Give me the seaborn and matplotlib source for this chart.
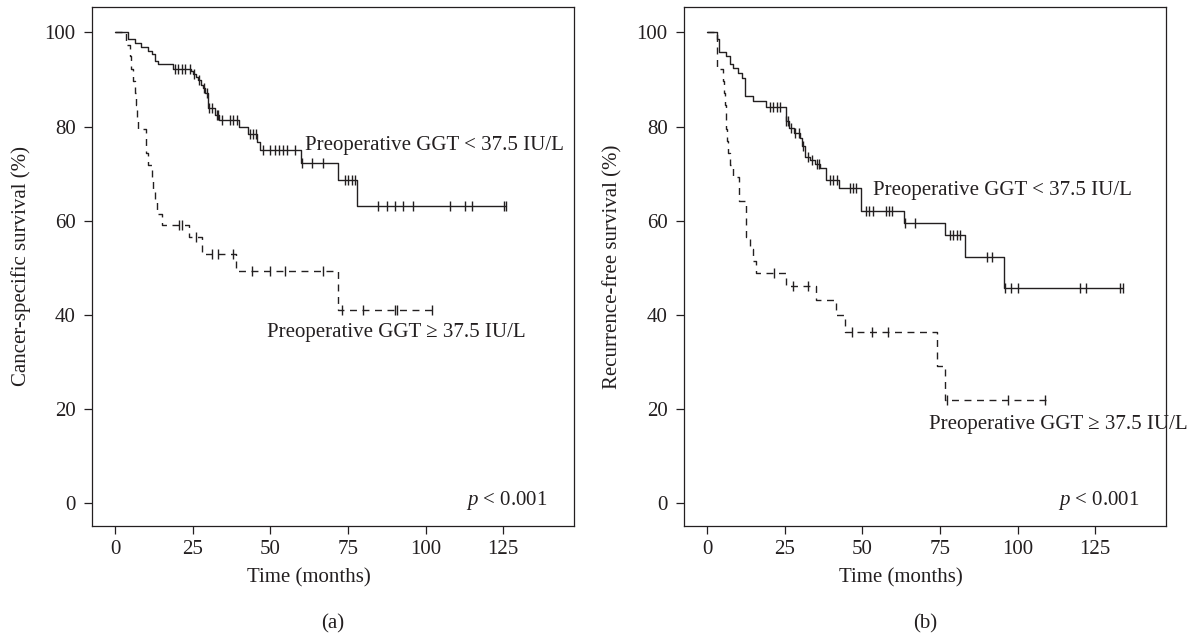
import numpy as np
import pandas as pd
import matplotlib
matplotlib.use("Agg")
import matplotlib.pyplot as plt
import seaborn as sns

# ---------------- data ----------------
# Panel (a): cancer-specific survival
cs_low_event_t = [4.1, 6.5, 8.5, 10.5, 12.0, 13.0, 14.0, 18.6, 24.4, 25.2, 26.1, 26.8,
                  27.6, 28.4, 29.0, 30.1, 32.2, 33.6, 40.0, 42.9, 45.8, 46.7, 60.0, 71.9, 77.8]
cs_low_event_s = [98.5, 97.8, 96.9, 96.1, 95.4, 94.0, 93.3, 92.3, 91.8, 91.2, 90.5, 89.8,
                  88.9, 88.2, 87.1, 83.9, 82.5, 81.4, 79.8, 78.4, 76.7, 75.1, 72.2, 68.7, 63.1]
cs_low_end = 126.0
cs_low_censor = [19.3, 20.4, 21.5, 22.6, 24.0, 25.5, 27.0, 28.6, 29.5, 30.4, 31.1, 32.7, 33.3,
                 34.4, 37.0, 38.1, 39.2, 43.5, 44.5, 45.4, 47.8, 49.9, 51.5, 52.9, 54.2, 55.3,
                 58.0, 60.1, 63.3, 67.1, 74.1, 75.1, 76.2, 77.3, 84.8, 87.5, 90.2, 92.9, 95.9,
                 107.9, 112.7, 114.9, 125.1, 125.9]

cs_high_event_t = [3.4, 4.8, 5.3, 5.9, 6.3, 6.7, 7.0, 7.5, 10.0, 10.7, 11.8, 12.3, 12.9,
                   13.4, 15.0, 23.9, 27.9, 39.0, 71.9]
cs_high_event_s = [97.4, 94.9, 92.3, 89.7, 87.2, 84.6, 82.1, 79.5, 74.4, 71.8, 69.2, 66.7,
                   64.1, 61.5, 59.0, 56.6, 53.0, 49.3, 40.9]
cs_high_end = 103.0
cs_high_censor = [20.5, 21.5, 26.1, 31.1, 33.3, 38.1, 44.0, 49.9, 54.8, 67.1, 73.0, 80.0,
                  90.2, 90.9, 102.0]

# Panel (b): recurrence-free survival
rfs_low_event_t = [3.1, 4.0, 6.1, 7.4, 8.5, 10.1, 11.2, 12.2, 14.7, 19.0, 25.4, 26.5, 28.0,
                   30.0, 30.5, 31.6, 33.2, 34.8, 36.4, 38.3, 42.6, 49.5, 63.5, 76.7, 83.1, 95.7]
rfs_low_event_s = [98.5, 95.9, 94.9, 93.3, 92.5, 91.4, 90.3, 86.4, 85.5, 84.1, 81.1, 79.7, 78.6,
                   77.5, 75.8, 73.6, 72.9, 72.0, 71.1, 68.7, 67.0, 62.1, 59.6, 56.9, 52.2, 45.7]
rfs_low_end = 134.0
rfs_low_censor = [20.3, 21.4, 22.4, 23.5, 25.6, 26.2, 27.2, 28.5, 29.5, 31.0, 32.5, 33.8, 35.5,
                  36.0, 39.6, 40.7, 41.8, 46.0, 47.1, 47.9, 51.2, 52.3, 53.4, 57.7, 58.7, 59.5,
                  63.8, 67.0, 78.3, 79.3, 80.4, 81.5, 90.1, 91.7, 95.9, 98.0, 100.3, 120.1,
                  122.0, 133.0, 133.9]

rfs_high_event_t = [3.1, 5.1, 5.4, 5.7, 6.0, 6.2, 6.4, 6.7, 7.4, 8.5, 10.4, 12.6, 13.8, 14.7,
                    15.7, 25.4, 35.1, 41.5, 44.4, 74.2, 76.7]
rfs_high_event_s = [92.3, 89.7, 87.2, 84.6, 82.1, 79.5, 76.9, 74.4, 71.8, 69.2, 64.1, 56.6,
                    54.0, 51.5, 48.9, 46.1, 43.1, 39.9, 36.3, 29.2, 21.9]
rfs_high_end = 109.4
rfs_high_censor = [21.5, 27.6, 32.6, 46.6, 53.0, 58.4, 77.2, 97.0, 108.8]

x_ticks = [0, 25, 50, 75, 100, 125]
y_ticks = [0, 20, 40, 60, 80, 100]
y_labels = ["Cancer-specific survival (%)", "Recurrence-free survival (%)"]
x_label = "Time (months)"
label_low = "Preoperative GGT < 37.5 IU/L"
label_high = "Preoperative GGT \u2265 37.5 IU/L"
panel_tags = ["(a)", "(b)"]
p_text = r"$p$ < 0.001"

# ---------------- style ----------------
sns.set_style("ticks")
INK = "#231f20"
plt.rcParams["font.family"] = ["Liberation Serif", "DejaVu Serif"]
plt.rcParams["mathtext.fontset"] = "custom"
plt.rcParams["mathtext.rm"] = "Liberation Serif"
plt.rcParams["mathtext.it"] = "Liberation Serif:italic"
plt.rcParams["text.color"] = INK
FS = 15


def step_frame(ev_t, ev_s, t_end):
    x = [0.0] + list(ev_t) + [t_end]
    y = [100.0] + list(ev_s) + [ev_s[-1]]
    return pd.DataFrame({"t": x, "s": y})


def censor_frame(ev_t, ev_s, cens):
    levels = np.array([100.0] + list(ev_s))
    idx = np.searchsorted(np.array(ev_t), np.array(cens), side="right")
    return pd.DataFrame({"t": cens, "s": levels[idx]})


fig = plt.figure(figsize=(11.97, 6.37), dpi=100)
ax_a = fig.add_axes([92 / 1197, 1 - 526 / 637, 482 / 1197, 519 / 637])
ax_b = fig.add_axes([684 / 1197, 1 - 526 / 637, 482 / 1197, 519 / 637])

panels = [
    (ax_a, (cs_low_event_t, cs_low_event_s, cs_low_end, cs_low_censor),
     (cs_high_event_t, cs_high_event_s, cs_high_end, cs_high_censor),
     (61.3, 75.9), (49.1, 36.2)),
    (ax_b, (rfs_low_event_t, rfs_low_event_s, rfs_low_end, rfs_low_censor),
     (rfs_high_event_t, rfs_high_event_s, rfs_high_end, rfs_high_censor),
     (53.6, 66.4), (71.6, 16.6)),
]

for i, (ax, low, high, pos_low, pos_high) in enumerate(panels):
    for grp, ls in ((low, "-"), (high, (0, (5, 4)))):
        ev_t, ev_s, t_end, cens = grp
        sf = step_frame(ev_t, ev_s, t_end)
        sns.lineplot(data=sf, x="t", y="s", ax=ax, color=INK, linewidth=1.0,
                     drawstyle="steps-post", estimator=None, sort=False, linestyle=ls)
        cf = censor_frame(ev_t, ev_s, cens)
        sns.scatterplot(data=cf, x="t", y="s", ax=ax, marker="|", s=55,
                        color=INK, linewidth=1.0, zorder=3)

    ax.set_xlim(-7.4, 147.8)
    ax.set_ylim(-4.9, 105.4)
    ax.set_xticks(x_ticks)
    ax.set_yticks(y_ticks)
    ax.set_xticklabels([str(v) for v in x_ticks])
    ax.set_yticklabels([str(v) for v in y_ticks])
    ax.tick_params(axis="both", direction="out", length=5.8, width=0.9,
                   color=INK, labelcolor=INK, labelsize=FS)
    ax.tick_params(axis="x", pad=4)
    ax.tick_params(axis="y", pad=6)
    for sp in ax.spines.values():
        sp.set_visible(True)
        sp.set_linewidth(0.9)
        sp.set_color(INK)
    ax.set_xlabel("")
    ax.set_ylabel("")

    ax.text(pos_low[0], pos_low[1], label_low, fontsize=FS, ha="left", va="center", color=INK)
    ax.text(pos_high[0], pos_high[1], label_high, fontsize=FS, ha="left", va="center", color=INK)
    ax.text(139.4, 0.6, p_text, fontsize=FS, ha="right", va="center", color=INK)

    trans = matplotlib.transforms.blended_transform_factory(ax.transData, ax.transAxes)
    ax.text(62.5, -0.100, x_label, transform=trans, fontsize=FS, ha="center", va="center", color=INK)
    ax.text(-0.147, 0.5, y_labels[i], transform=ax.transAxes, fontsize=FS, rotation=90,
            ha="center", va="center", color=INK)
    ax.text(0.5, -0.189, panel_tags[i], transform=ax.transAxes, fontsize=FS,
            ha="center", va="center", color=INK)

fig.savefig("out.png", dpi=100)
